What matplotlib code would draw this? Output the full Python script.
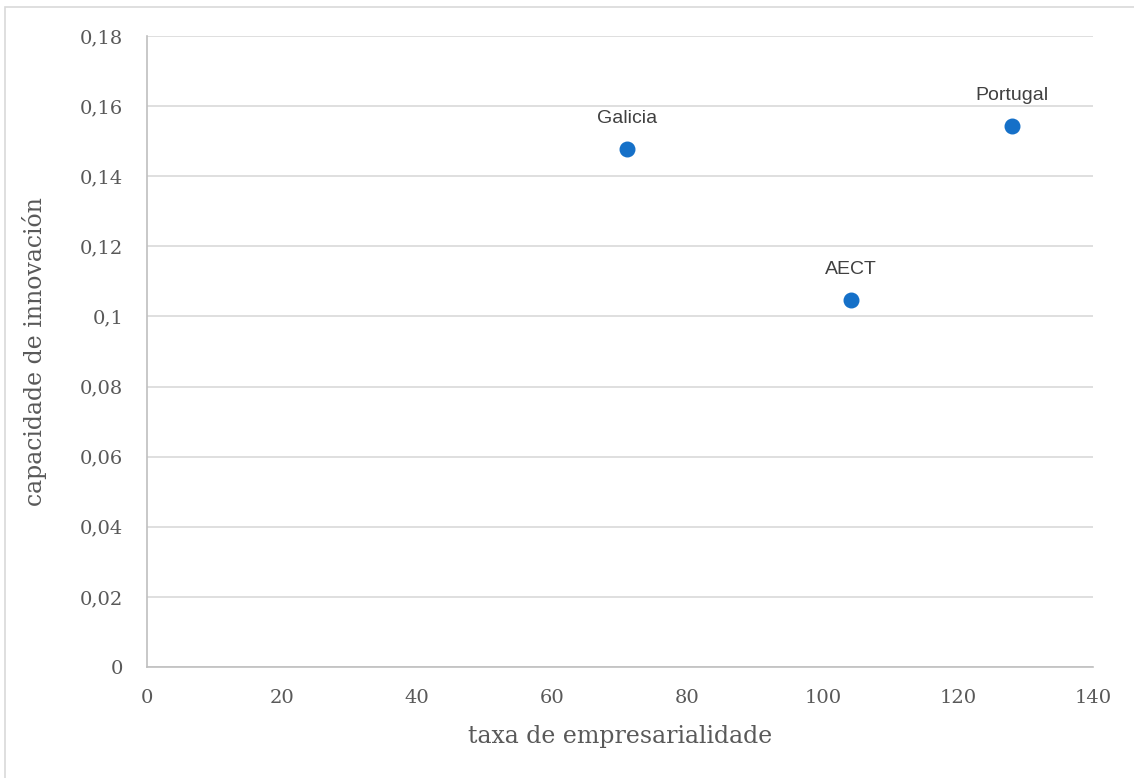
import matplotlib.pyplot as plt
import matplotlib.patches as patches
import numpy as np

names = ['Galicia', 'AECT', 'Portugal']
taxa = [71.0, 104.2, 128.0]
capacidade = [0.1478, 0.1047, 0.1542]

fig = plt.figure(figsize=(11.34, 7.78), dpi=100)
ax = fig.add_axes([147/1134, 1-667/778, (1093-147)/1134, (667-36)/778])

# outer chart border (only top and left visible in the reference)
fig.patches.append(patches.Rectangle((5/1134, -0.2), 1.2, 1.2 - 7/778, transform=fig.transFigure,
                                     fill=False, edgecolor='#d9d9d9', linewidth=1.2))

ax.scatter(taxa, capacidade, s=110, color='#1570c8', zorder=3)
for n, xv, yv in zip(names, taxa, capacidade):
    ax.annotate(n, (xv, yv), xytext=(0, 16), textcoords='offset points', ha='center', va='bottom',
                fontsize=14, color='#404040', family='Liberation Sans')

ax.set_xlim(0, 140)
ax.set_ylim(0, 0.18)
ax.set_xticks(np.arange(0, 141, 20))
yt = np.arange(0, 0.181, 0.02)
ax.set_yticks(yt)
ax.set_yticklabels(['0' if v == 0 else ('%g' % round(v, 2)).replace('.', ',') for v in yt])
ax.grid(axis='y', color='#d9d9d9', linewidth=1.2)
ax.set_axisbelow(True)
for s in ['top', 'right']:
    ax.spines[s].set_visible(False)
for s in ['left', 'bottom']:
    ax.spines[s].set_color('#bfbfbf')
    ax.spines[s].set_linewidth(1.2)
ax.tick_params(axis='y', length=0, pad=17, labelsize=14, labelcolor='#595959')
ax.tick_params(axis='x', length=0, pad=16, labelsize=14, labelcolor='#595959')
for lab in ax.get_xticklabels() + ax.get_yticklabels():
    lab.set_family('DejaVu Serif')
ax.set_xlabel('taxa de empresarialidade', fontsize=17, color='#595959', family='DejaVu Serif', labelpad=13)
ax.set_ylabel('capacidade de innovación', fontsize=17, color='#595959', family='DejaVu Serif', labelpad=24)

fig.savefig('out.png', dpi=100)
